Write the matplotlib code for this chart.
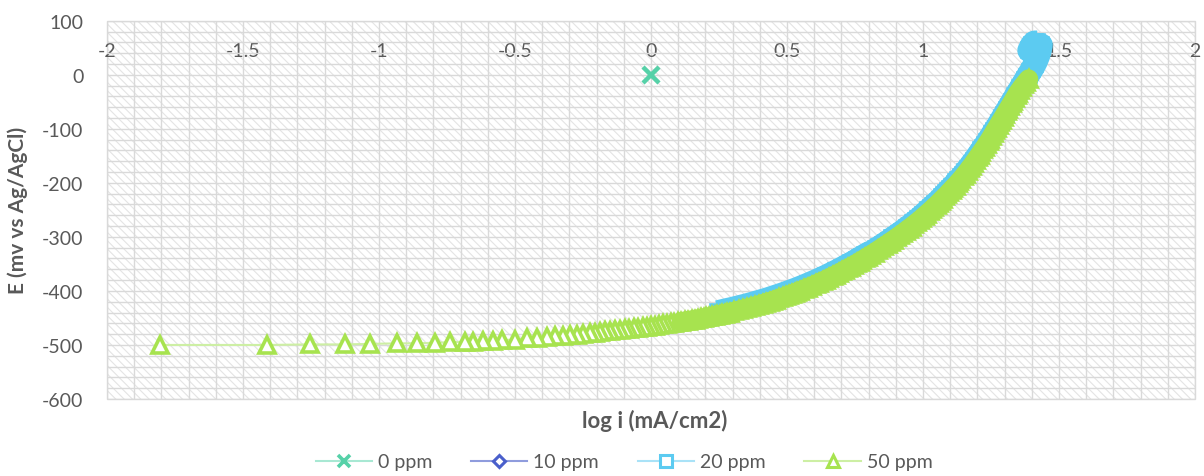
import numpy as np
import matplotlib
matplotlib.use('Agg')
import matplotlib.pyplot as plt
from matplotlib.lines import Line2D
from matplotlib.patches import Rectangle

# series data: log i (mA/cm2) and E (mV vs Ag/AgCl)
logi_0 = [0.0]
E_0 = [0.0]

logi_10 = []
E_10 = []

logi_20 = [0.246, 0.271, 0.298, 0.322, 0.346, 0.368, 0.389, 0.410, 0.430, 0.448,
           0.466, 0.484, 0.500, 0.517, 0.533, 0.548, 0.563, 0.577, 0.591, 0.605,
           0.618, 0.631, 0.644, 0.656, 0.668, 0.680, 0.692, 0.703, 0.714, 0.725,
           0.736, 0.747, 0.757, 0.767, 0.777, 0.787, 0.797, 0.816, 0.828, 0.840,
           0.852, 0.864, 0.876, 0.887, 0.899, 0.910, 0.921, 0.932, 0.942, 0.953,
           0.963, 0.973, 0.983, 0.992, 1.001, 1.010, 1.019, 1.028, 1.037, 1.045,
           1.054, 1.062, 1.070, 1.078, 1.086, 1.093, 1.101, 1.108, 1.116, 1.123,
           1.130, 1.140, 1.148, 1.156, 1.164, 1.172, 1.179, 1.187, 1.194, 1.201,
           1.208, 1.215, 1.222, 1.229, 1.236, 1.242, 1.249, 1.255, 1.261, 1.268,
           1.274, 1.280, 1.286, 1.292, 1.298, 1.304, 1.310, 1.316, 1.322, 1.328,
           1.334, 1.340, 1.346, 1.352, 1.358, 1.364, 1.370, 1.376, 1.382, 1.388,
           1.394, 1.400, 1.406, 1.411, 1.416, 1.420, 1.424, 1.427, 1.430, 1.432,
           1.434, 1.390, 1.400, 1.410, 1.420]
E_20 = [-439, -436, -433, -430, -427, -424, -421, -418, -415, -412,
        -409, -406, -403, -400, -397, -394, -391, -388, -385, -382,
        -379, -376, -373, -370, -367, -364, -361, -358, -355, -352,
        -349, -346, -343, -340, -337, -334, -331, -327, -323, -319,
        -315, -311, -307, -303, -299, -295, -291, -287, -283, -279,
        -275, -271, -267, -263, -259, -255, -251, -247, -243, -239,
        -235, -231, -227, -223, -219, -215, -211, -207, -203, -199,
        -195, -190, -185, -180, -175, -170, -165, -160, -155, -150,
        -145, -140, -135, -130, -125, -120, -115, -110, -105, -100,
        -95, -90, -85, -80, -75, -70, -65, -60, -55, -50,
        -45, -40, -35, -30, -25, -20, -15, -10, -5, 0,
        5, 10, 15, 20, 25, 30, 35, 40, 45, 50,
        55, 45, 55, 60, 60]

logi_50 = [-1.805, -1.412, -1.254, -1.125, -1.033, -0.934, -0.860, -0.794, -0.739, -0.684,
           -0.654, -0.618, -0.581, -0.548, -0.500, -0.456, -0.419, -0.382, -0.353, -0.324,
           -0.298, -0.272, -0.250, -0.224, -0.206, -0.188, -0.168, -0.150, -0.132, -0.114,
           -0.097, -0.080, -0.063, -0.047, -0.031, -0.015, 0.000, 0.015, 0.030, 0.044,
           0.058, 0.072, 0.086, 0.099, 0.112, 0.125, 0.137, 0.149, 0.161, 0.172,
           0.183, 0.194, 0.204, 0.214, 0.224, 0.234, 0.244, 0.253, 0.262, 0.271,
           0.280, 0.289, 0.306, 0.322, 0.338, 0.353, 0.368, 0.382, 0.396, 0.410,
           0.423, 0.436, 0.448, 0.460, 0.472, 0.484, 0.495, 0.506, 0.517, 0.528,
           0.538, 0.548, 0.563, 0.577, 0.591, 0.605, 0.618, 0.631, 0.644, 0.656,
           0.668, 0.680, 0.692, 0.703, 0.714, 0.725, 0.736, 0.747, 0.757, 0.767,
           0.777, 0.787, 0.797, 0.810, 0.822, 0.834, 0.846, 0.858, 0.870, 0.881,
           0.893, 0.904, 0.915, 0.926, 0.937, 0.947, 0.958, 0.968, 0.978, 0.988,
           0.997, 1.006, 1.015, 1.024, 1.033, 1.041, 1.050, 1.058, 1.066, 1.074,
           1.082, 1.090, 1.097, 1.105, 1.112, 1.120, 1.127, 1.134, 1.141, 1.149,
           1.157, 1.165, 1.172, 1.180, 1.187, 1.194, 1.201, 1.208, 1.215, 1.222,
           1.229, 1.235, 1.242, 1.248, 1.254, 1.260, 1.266, 1.272, 1.278, 1.284,
           1.290, 1.296, 1.302, 1.308, 1.314, 1.320, 1.326, 1.332, 1.338, 1.344,
           1.350, 1.357, 1.364, 1.372, 1.380, 1.388]
E_50 = [-500, -500, -499, -499, -498, -497, -497, -496, -495, -494,
        -494, -493, -492, -491, -490, -488, -487, -486, -484, -483,
        -482, -481, -480, -478, -477, -476, -475, -474, -473, -472,
        -471, -470, -469, -468, -467, -466, -465, -464, -463, -462,
        -461, -460, -459, -458, -457, -456, -455, -454, -453, -452,
        -451, -450, -449, -448, -447, -446, -445, -444, -443, -442,
        -441, -440, -438, -436, -434, -432, -430, -428, -426, -424,
        -422, -420, -418, -416, -414, -412, -410, -408, -406, -404,
        -402, -400, -397, -394, -391, -388, -385, -382, -379, -376,
        -373, -370, -367, -364, -361, -358, -355, -352, -349, -346,
        -343, -340, -337, -333, -329, -325, -321, -317, -313, -309,
        -305, -301, -297, -293, -289, -285, -281, -277, -273, -269,
        -265, -261, -257, -253, -249, -245, -241, -237, -233, -229,
        -225, -221, -217, -213, -209, -205, -201, -197, -193, -188,
        -183, -178, -173, -168, -163, -158, -153, -148, -143, -138,
        -133, -128, -123, -118, -113, -108, -103, -98, -93, -88,
        -83, -78, -73, -68, -63, -58, -53, -48, -43, -38,
        -33, -28, -23, -18, -13, -8]

labels = ['0 ppm', '10 ppm', '20 ppm', '50 ppm']
marker_cols = ['#56D1A8', '#4A5FCB', '#5CCBF1', '#A7E34F']
line_cols = ['#A8E8D3', '#8F9CDD', '#A9E2F7', '#CDEFA4']
markers = ['x', 'D', 's', '^']

plt.rcParams['font.family'] = ['Lato', 'DejaVu Sans']
plt.rcParams['axes.unicode_minus'] = False
plt.rcParams['hatch.color'] = '#e4e4e4'
plt.rcParams['hatch.linewidth'] = 0.8
txt = '#595959'

fig = plt.figure(figsize=(12.04, 4.77), dpi=100)
ax = fig.add_axes([107/1204, 1-400/477, (1195-107)/1204, (400-21.7)/477])
ax.patch.set_facecolor('white')
ax.patch.set_hatch('\\\\\\\\')
ax.patch.set_edgecolor('#e4e4e4')
ax.patch.set_linewidth(0)

ax.set_xlim(-2, 2)
ax.set_ylim(-600, 100)
ax.set_xticks(np.arange(-2, 2.01, 0.5))
ax.set_xticks(np.arange(-2, 2.01, 0.1), minor=True)
ax.set_yticks(np.arange(-600, 101, 100))
ax.set_yticks(np.arange(-600, 101, 20), minor=True)
ax.set_xticklabels(['-2', '-1.5', '-1', '-0.5', '0', '0.5', '1', '1.5', '2'])
ax.grid(which='both', color='#d9d9d9', lw=1.0)
ax.set_axisbelow(True)
for s in ax.spines.values():
    s.set_visible(False)
ax.spines['bottom'].set_position(('data', 68))
ax.tick_params(which='both', length=0)
ax.tick_params(axis='x', labelsize=14, colors=txt, pad=3)
ax.tick_params(axis='y', labelsize=14, colors=txt, pad=17)
ax.add_patch(Rectangle((0, 0), 1, 1, transform=ax.transAxes, fill=False,
                       ec='#d9d9d9', lw=1.0, zorder=0.5, clip_on=False))

# 0 ppm and 10 ppm
ax.plot(logi_0, E_0, color=line_cols[0], lw=1.5, marker='x', markersize=12,
        mew=3.2, mec=marker_cols[0], zorder=3)
ax.plot(logi_10, E_10, color=line_cols[1], lw=1.5, marker='D', markersize=8,
        mew=2.2, mec=marker_cols[1], mfc='white', zorder=3)

# 20 ppm: markers overlap so tightly that they merge into a solid band
ax.plot(logi_20[::-1], E_20[::-1], color=line_cols[2], lw=1.5, marker='s',
        markersize=10, mew=2.6, mec=marker_cols[2], mfc='white', zorder=3)
ax.plot(logi_20, E_20, color=marker_cols[2], lw=17, solid_capstyle='butt',
        solid_joinstyle='round', zorder=3)

# 50 ppm
ax.plot(logi_50[::-1], E_50[::-1], color=line_cols[3], lw=1.5, marker='^',
        markersize=12, mew=2.6, mec=marker_cols[3], mfc='white', zorder=3)
ax.plot(logi_50[44:], E_50[44:], color=marker_cols[3], lw=14,
        solid_capstyle='round', solid_joinstyle='round', zorder=3)

ax.set_ylabel('E (mv vs Ag/AgCl)', fontsize=15, fontweight='bold', color=txt)
ax.yaxis.set_label_coords((28 - 107) / (1195 - 107), 0.5)
fig.text(655/1204, 1-421/477, 'log i (mA/cm2)', fontsize=16, fontweight='bold',
         color=txt, ha='center', va='center')

handles = []
for i in range(4):
    mk = markers[i]
    if mk == 'x':
        h = Line2D([], [], color=line_cols[i], lw=1.5, marker='x', markersize=9,
                   mew=2.6, mec=marker_cols[i])
    else:
        h = Line2D([], [], color=line_cols[i], lw=1.5, marker=mk,
                   markersize=8 if mk != 'D' else 6.5,
                   mew=2.2, mec=marker_cols[i], mfc='white')
    handles.append(h)
fig.legend(handles, labels, loc='center', bbox_to_anchor=(624/1204, 1-463/477),
           ncol=4, frameon=False, fontsize=14, handlelength=2.9, handletextpad=0.3,
           columnspacing=2.0, labelcolor=txt)

fig.savefig('out.png', dpi=100)
